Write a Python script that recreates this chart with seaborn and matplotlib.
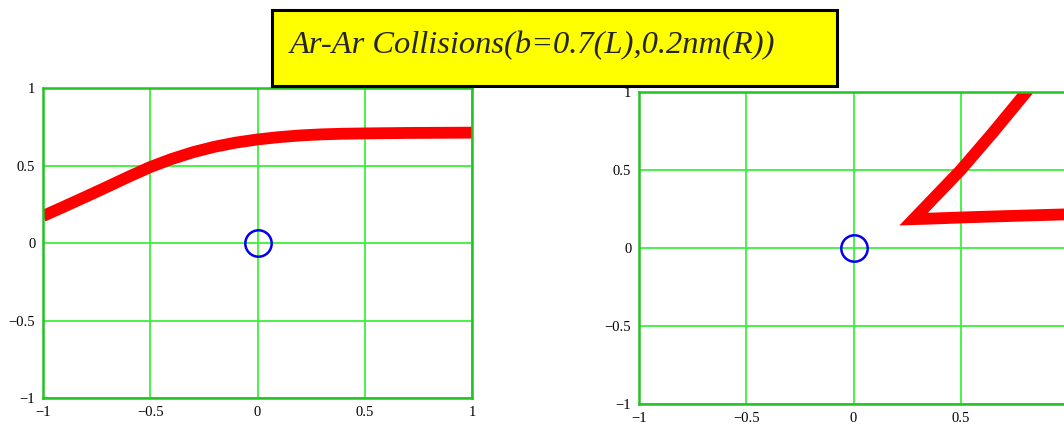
import matplotlib
matplotlib.use("Agg")
import matplotlib.pyplot as plt
import seaborn as sns
import pandas as pd
from matplotlib.patches import Rectangle

# ---- data ----
title_text = "Ar-Ar Collisions(b=0.7(L),0.2nm(R))"

left_x = [-1.0, -0.9, -0.8, -0.7, -0.6, -0.5, -0.4, -0.3, -0.2, -0.1, 0.0, 0.1, 0.2, 0.3, 0.4, 0.5, 0.7, 1.0]
left_y = [0.174, 0.236, 0.299, 0.363, 0.428, 0.490, 0.542, 0.586, 0.621, 0.648, 0.668, 0.683, 0.694, 0.701, 0.705, 0.707, 0.710, 0.712]

right_x = [1.0, 0.8, 0.6, 0.45, 0.35, 0.28, 0.50, 0.65, 0.806, 0.9]
right_y = [0.216, 0.208, 0.200, 0.193, 0.188, 0.185, 0.50, 0.74, 1.0, 1.16]

atom_x = [0.0]
atom_y = [0.0]

tick_vals = [-1, -0.5, 0, 0.5, 1]
tick_labels = ["\u22121", "\u22120.5", "0", "0.5", "1"]

sns.set_theme(style="white")
plt.rcParams["font.family"] = ["Liberation Serif", "DejaVu Serif"]

fig = plt.figure(figsize=(10.64, 4.25), dpi=100)

ax_l = fig.add_axes([43/1064, (425-398)/425, 429/1064, 310/425])
ax_r = fig.add_axes([639/1064, (425-404)/425, 429/1064, 312/425])

frame_col = "#22c322"
grid_col = "#3cf03c"

def style(ax, xt, xl):
    ax.set_xlim(-1, 1)
    ax.set_ylim(-1, 1)
    ax.set_xticks(xt)
    ax.set_yticks(tick_vals)
    ax.set_xticklabels(xl)
    ax.set_yticklabels(tick_labels)
    ax.grid(True, color=grid_col, linewidth=1.3)
    ax.set_axisbelow(True)
    for s in ax.spines.values():
        s.set_color(frame_col)
        s.set_linewidth(1.8)
        s.set_visible(True)
    ax.tick_params(axis="both", length=0, labelsize=10.5, colors="black")
    ax.tick_params(axis="x", pad=6)
    ax.tick_params(axis="y", pad=5.5)
    ax.set_xlabel("")
    ax.set_ylabel("")
    ax.set_facecolor("white")

df_l = pd.DataFrame({"x": left_x, "y": left_y})
df_r = pd.DataFrame({"x": right_x, "y": right_y})
df_a = pd.DataFrame({"x": atom_x, "y": atom_y})

sns.lineplot(data=df_l, x="x", y="y", ax=ax_l, color="#ff0000", linewidth=8.5,
             sort=False, estimator=None, solid_capstyle="butt", solid_joinstyle="miter")
sns.lineplot(data=df_r, x="x", y="y", ax=ax_r, color="#ff0000", linewidth=8.5,
             sort=False, estimator=None, solid_capstyle="butt", solid_joinstyle="miter")

for ax in (ax_l, ax_r):
    ax.plot(df_a["x"], df_a["y"], linestyle="none", marker="o", markersize=19,
            markerfacecolor="none", markeredgecolor="#0000ee", markeredgewidth=1.8)

style(ax_l, tick_vals, tick_labels)
# right panel: x = 1 lies beyond the picture's edge, so its label is not shown
style(ax_r, tick_vals[:-1], tick_labels[:-1])

# title box
fig.patches.append(Rectangle((272/1064, (425-86)/425), 565/1064, 76/425,
                             transform=fig.transFigure, facecolor="#ffff00",
                             edgecolor="black", linewidth=2.2, zorder=5))
fig.text(290/1064, (425-46)/425, title_text, fontsize=23.4, fontstyle="italic",
         family=["Liberation Serif", "DejaVu Serif"], ha="left", va="center", zorder=6)

fig.savefig("out.png", dpi=100, facecolor="white")
